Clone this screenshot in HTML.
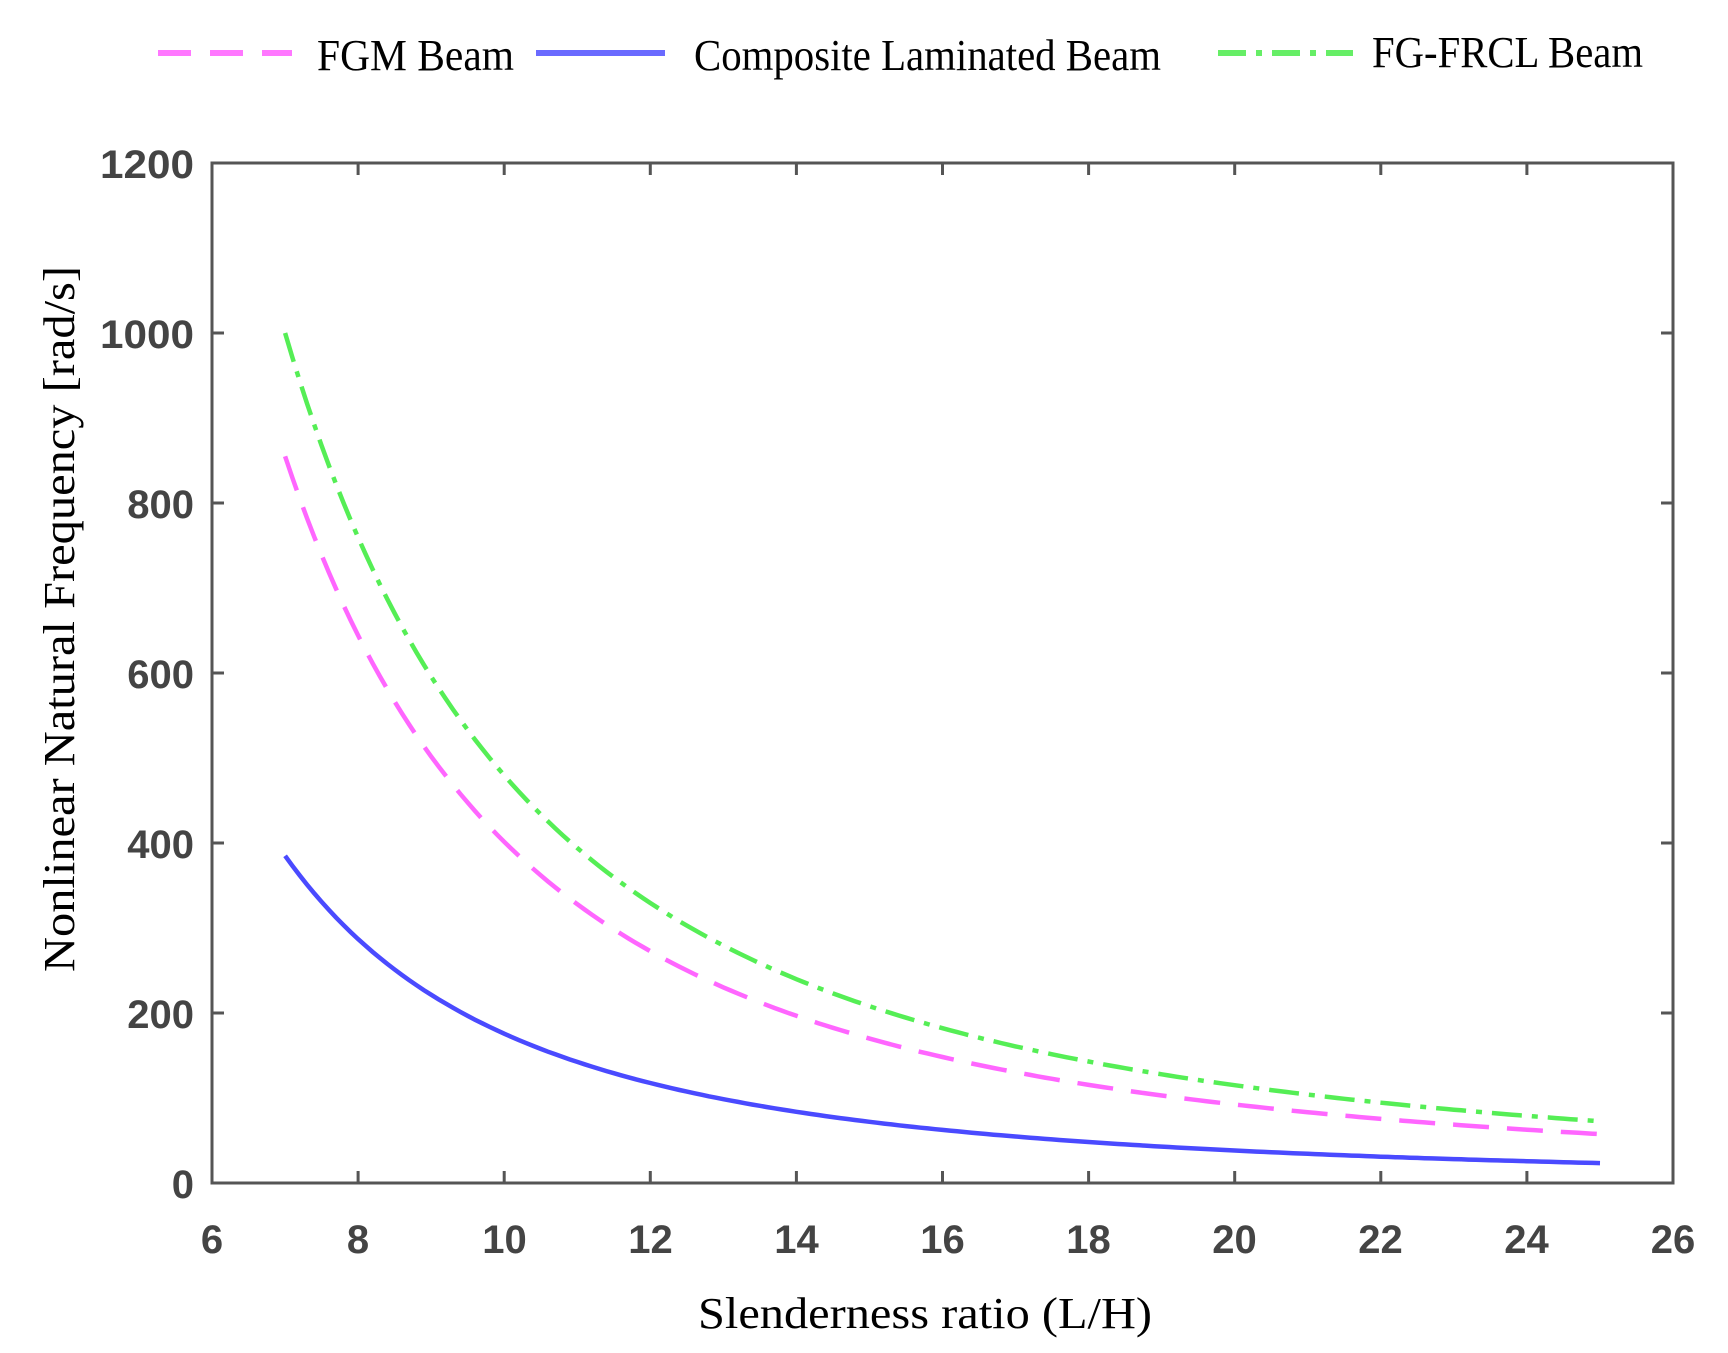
<!DOCTYPE html>
<html><head><meta charset="utf-8"><style>
html,body{margin:0;padding:0;background:#fff;}
svg{display:block;}
.tk{font-family:"Liberation Sans",Arial,sans-serif;font-size:40px;font-weight:bold;fill:#444;}
.lg{font-family:"Liberation Serif","Times New Roman",serif;font-size:44px;fill:#000;}
</style></head><body>
<svg id="s" width="1728" height="1353" viewBox="0 0 1728 1353" xmlns="http://www.w3.org/2000/svg">
<rect width="1728" height="1353" fill="#fff"/>
<line x1="158" y1="53" x2="292" y2="53" stroke="#ff77ff" stroke-width="6" stroke-dasharray="33,19"/>
<text class="lg" x="317" y="70" textLength="197" lengthAdjust="spacingAndGlyphs">FGM Beam</text>
<line x1="536" y1="53" x2="665" y2="53" stroke="#6a6aff" stroke-width="6"/>
<text class="lg" x="694" y="70" textLength="467" lengthAdjust="spacingAndGlyphs">Composite Laminated Beam</text>
<line x1="1218" y1="53" x2="1353" y2="53" stroke="#66ee66" stroke-width="6" stroke-dasharray="28,10,6,10"/>
<text class="lg" x="1372" y="67" textLength="271" lengthAdjust="spacingAndGlyphs">FG-FRCL Beam</text>
<g id="ax"></g>
<g id="cv"></g>
<text class="lg" x="698" y="1328" font-size="52" textLength="454" lengthAdjust="spacingAndGlyphs">Slenderness ratio (L/H)</text>
<text class="lg" transform="translate(74,972) rotate(-90)" x="0" y="0" font-size="52" textLength="706" lengthAdjust="spacingAndGlyphs">Nonlinear Natural Frequency [rad/s]</text>
<g class="tk" text-anchor="end">
<text x="194" y="178" textLength="94" lengthAdjust="spacingAndGlyphs">1200</text>
<text x="194" y="348" textLength="94" lengthAdjust="spacingAndGlyphs">1000</text>
<text x="194" y="518">800</text>
<text x="194" y="688">600</text>
<text x="194" y="858">400</text>
<text x="194" y="1028">200</text>
<text x="194" y="1198">0</text>
</g>
<g class="tk" text-anchor="middle">
<text x="212" y="1253">6</text>
<text x="358" y="1253">8</text>
<text x="504.5" y="1253">10</text>
<text x="650.5" y="1253">12</text>
<text x="796.5" y="1253">14</text>
<text x="942.5" y="1253">16</text>
<text x="1088.5" y="1253">18</text>
<text x="1234.5" y="1253">20</text>
<text x="1380.5" y="1253">22</text>
<text x="1526.5" y="1253">24</text>
<text x="1673" y="1253">26</text>
</g>
</svg>
<script>
(function(){
var L=212,R=1673,T=163,B=1183;
function X(v){return L+(R-L)*(v-6)/20;}
function Y(v){return B-(B-T)*v/1200;}
var ns="http://www.w3.org/2000/svg";
var ax=document.getElementById('ax'),cv=document.getElementById('cv');
var h='';
for(var i=1;i<10;i++){var x=X(6+2*i);h+='M'+x+' '+B+'v-12M'+x+' '+T+'v12';}
for(var j=1;j<6;j++){var y=Y(200*j);h+='M'+L+' '+y+'h12M'+R+' '+y+'h-12';}
var p=document.createElementNS(ns,'path');p.setAttribute('d',h);p.setAttribute('stroke','#555');p.setAttribute('stroke-width','3');p.setAttribute('fill','none');ax.appendChild(p);
var r=document.createElementNS(ns,'rect');r.setAttribute('x',L);r.setAttribute('y',T);r.setAttribute('width',R-L);r.setAttribute('height',B-T);r.setAttribute('fill','none');r.setAttribute('stroke','#555');r.setAttribute('stroke-width','3');ax.appendChild(r);
function curve(a,pw,col,dash){var d='';for(var k=0;k<=180;k++){var v=7+18*k/180;var y=a*Math.pow(7/v,pw);d+=(k?'L':'M')+X(v).toFixed(1)+' '+Y(y).toFixed(1);}
var c=document.createElementNS(ns,'path');c.setAttribute('d',d);c.setAttribute('stroke',col);c.setAttribute('stroke-width','4.5');c.setAttribute('fill','none');if(dash)c.setAttribute('stroke-dasharray',dash);cv.appendChild(c);}
curve(1000,2.06,'#55ee55','30,10,6,10');
curve(855,2.12,'#ff66ff','36,18');
curve(385,2.2,'#4a4aff',null);
})();
</script>
</body></html>
